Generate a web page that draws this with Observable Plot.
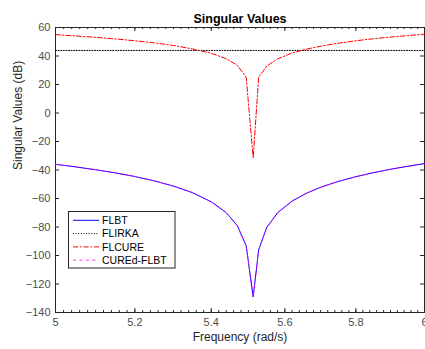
<!DOCTYPE html>
<html><head><meta charset="utf-8">
<script src="https://cdn.jsdelivr.net/npm/d3@7"></script>
<script src="https://cdn.jsdelivr.net/npm/@observablehq/plot@0.6"></script>
<style>
body{margin:0;background:#fff;}
#chart{position:relative;width:425px;height:349px;}
</style></head><body><div id="chart"></div>
<script>
// Frequency samples (rad/s)
const freq = [5.00,5.05,5.10,5.15,5.20,5.25,5.30,5.35,5.40,5.44,5.47,5.494,5.513,5.528,5.55,5.58,5.62,5.66,5.70,5.75,5.80,5.85,5.90,5.95,6.00];
// Singular values (dB)
const flbt      = [-36.0,-37.8,-39.8,-42.0,-44.6,-47.6,-51.3,-55.9,-62.3,-69.9,-79.1,-93.2,-129.0,-96.0,-80.3,-70.0,-61.8,-56.3,-52.1,-48.0,-44.7,-41.9,-39.5,-37.4,-35.5];
const flirka    = [43.9,43.9,43.9,43.9,43.9,43.9,43.9,43.9,43.9,43.9,43.9,43.9,43.9,43.9,43.9,43.9,43.9,43.9,43.9,43.9,43.9,43.9,43.9,43.9,43.9];
const flcure    = [55.0,54.1,53.1,52.0,50.7,49.2,47.4,45.0,41.9,38.1,33.5,25.0,-31.5,25.0,32.9,38.0,42.1,44.8,46.9,49.0,50.7,52.1,53.3,54.3,55.3];
const curedFlbt = [-36.0,-37.8,-39.8,-42.0,-44.6,-47.6,-51.3,-55.9,-62.3,-69.9,-79.1,-93.2,-129.0,-96.0,-80.3,-70.0,-61.8,-56.3,-52.1,-48.0,-44.7,-41.9,-39.5,-37.4,-35.5];

const seriesNames = ["FLBT","FLIRKA","FLCURE","CUREd-FLBT"];
const xTicks = [5,5.2,5.4,5.6,5.8,6];
const xTickLabels = ["5","5.2","5.4","5.6","5.8","6"];
const yTicks = [-140,-120,-100,-80,-60,-40,-20,0,20,40,60];
const xMinor = d3.range(5, 6.0001, 0.02).map(v => +v.toFixed(2));

const styles = {
  "FLBT":       {stroke:"#0000ff", dash:null, width:1},
  "FLIRKA":     {stroke:"#000000", dash:"1,1.6", width:1},
  "FLCURE":     {stroke:"#ff0000", dash:"5,2,1.5,2", width:1},
  "CUREd-FLBT": {stroke:"#ff00ff", dash:"3,3.5", width:0.8}
};
const valuesBySeries = [flbt, flirka, flcure, curedFlbt];
const rows = seriesNames.map((s,i) => freq.map((f,j) => ({series:s, f, v:valuesBySeries[i][j]})));

const W = 425, H = 349;
const mL = 55, mR = 1, mT = 27, mB = 37;
const innerW = W - mL - mR, innerH = H - mT - mB;
const axisColor = "#262626";
const font = "'Liberation Sans', Arial, sans-serif";

const lineMarks = seriesNames.map((s,i) => Plot.line(rows[i], {
  x:"f", y:"v", stroke: styles[s].stroke, strokeWidth: styles[s].width,
  strokeDasharray: styles[s].dash, strokeLinejoin:"round"
}));

const plot = Plot.plot({
  width: W, height: H,
  marginLeft: mL, marginRight: mR, marginTop: mT, marginBottom: mB,
  style: {fontFamily: font, background: "#fff"},
  x: {type:"log", domain:[5,6]},
  y: {domain:[-140,60]},
  marks: [
    Plot.frame({stroke: axisColor, strokeWidth: 1}),
    Plot.ruleX(xTicks, {x: d=>d, insetTop: innerH-4, stroke: axisColor}),
    Plot.ruleX(xTicks, {x: d=>d, insetBottom: innerH-4, stroke: axisColor}),
    Plot.ruleX(xMinor, {x: d=>d, insetTop: innerH-2, stroke: axisColor}),
    Plot.ruleX(xMinor, {x: d=>d, insetBottom: innerH-2, stroke: axisColor}),
    Plot.ruleY(yTicks, {y: d=>d, insetRight: innerW-4, stroke: axisColor}),
    Plot.ruleY(yTicks, {y: d=>d, insetLeft: innerW-4, stroke: axisColor}),
    Plot.axisX({ticks: xTicks, tickSize: 0, tickPadding: 6, tickFormat: d => xTickLabels[xTicks.indexOf(d)], fontSize: 11, fill: "#4d4d4d", label: null}),
    Plot.axisY({ticks: yTicks, tickSize: 0, tickPadding: 5, fontSize: 11, fill: "#4d4d4d", label: null}),
    ...lineMarks,
    Plot.text(["Singular Values"], {frameAnchor:"top", dy:-13, fontSize: 12.5, fontWeight:"bold", fill:"#000"}),
    Plot.text(["Frequency (rad/s)"], {frameAnchor:"bottom", dy:28, fontSize: 12, fill:"#262626"}),
    Plot.text(["Singular Values (dB)"], {frameAnchor:"left", dx:-37, rotate:-90, fontSize: 12, fill:"#262626"})
  ]
});

// Legend (MATLAB-style box inside the axes)
const svg = d3.select(plot);
const lg = svg.append("g").attr("font-family", font).attr("font-size", 10.5).attr("text-anchor", "start");
const lx = 68.5, ly = 211.5, lw = 106.5, lh = 56.5, rowH = 13.3;
lg.append("rect").attr("x", lx).attr("y", ly).attr("width", lw).attr("height", lh)
  .attr("fill", "#fff").attr("stroke", axisColor).attr("stroke-width", 1);
seriesNames.forEach((s,i) => {
  const yy = ly + 8.8 + i*rowH;
  lg.append("line").attr("x1", lx+4.5).attr("x2", lx+30.5).attr("y1", yy).attr("y2", yy)
    .attr("stroke", styles[s].stroke).attr("stroke-width", styles[s].width)
    .attr("stroke-dasharray", styles[s].dash);
  lg.append("text").attr("x", lx+33.5).attr("y", yy).attr("dy", "0.35em")
    .attr("text-anchor", "start").attr("fill", "#000").text(s);
});

document.getElementById("chart").appendChild(plot);
</script></body></html>
